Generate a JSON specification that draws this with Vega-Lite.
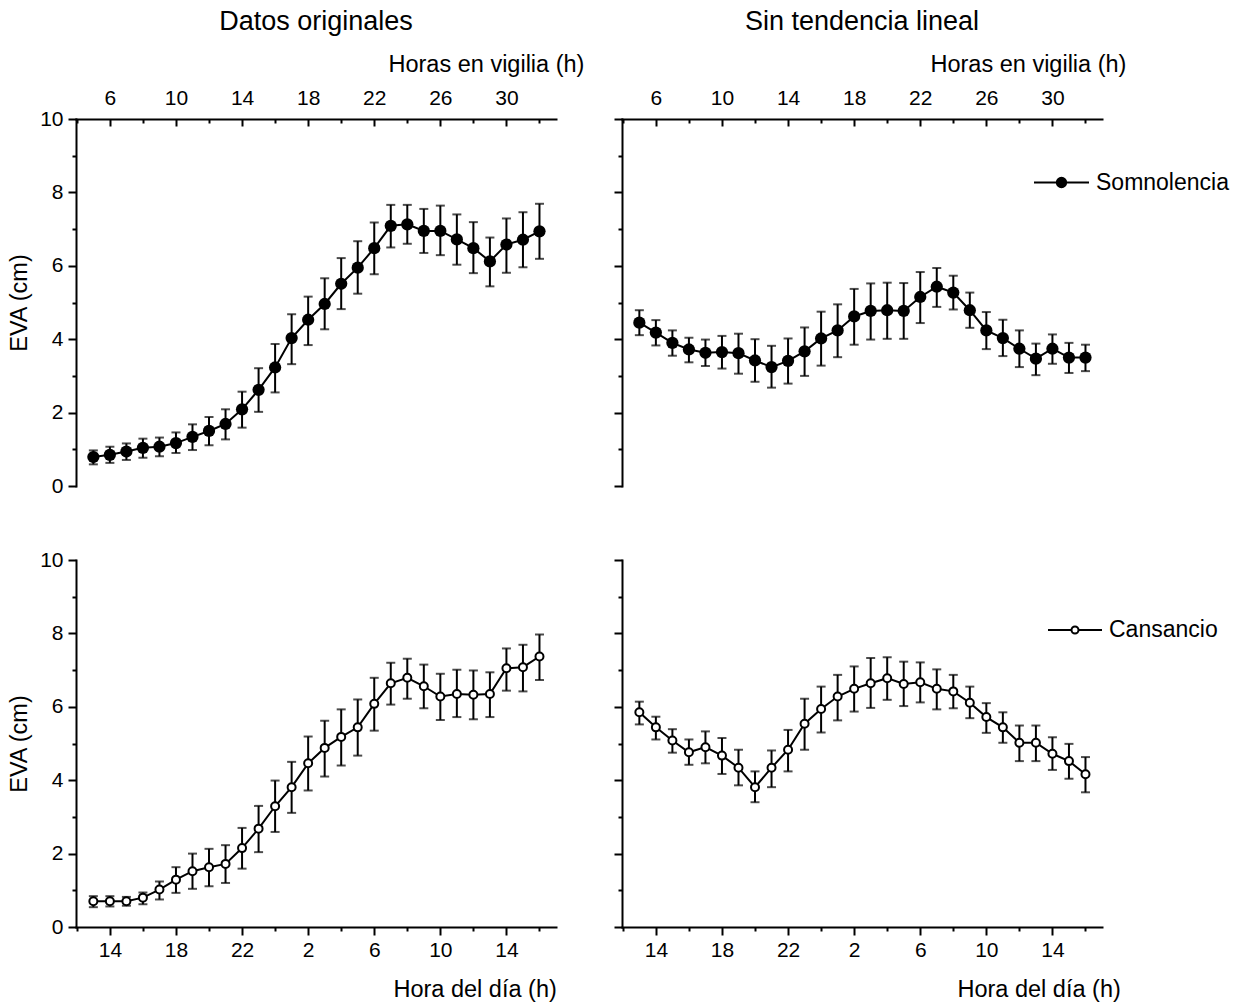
{
  "$schema": "https://vega.github.io/schema/vega-lite/v6.json",
  "padding": {"left": 7, "top": 8, "right": 5, "bottom": 5},
  "background": "white",
  "config": {
    "font": "Liberation Sans",
    "view": {"stroke": null},
    "axis": {
      "domainColor": "black", "tickColor": "black", "labelColor": "black", "titleColor": "black",
      "domainWidth": 2, "tickWidth": 2, "domainCap": "square", "grid": false,
      "labelFontSize": 21, "titleFontSize": 23.5, "titleFontWeight": "normal",
      "labelFont": "Liberation Sans", "titleFont": "Liberation Sans", "labelOverlap": false
    },
    "title": {"fontSize": 27, "fontWeight": "normal", "color": "black", "font": "Liberation Sans"}
  },
  "resolve": {"scale": {"stroke": "independent"}, "legend": {"stroke": "independent"}},
  "datasets": {
    "somOrig": [
      {"h": 5, "m": 0.79, "lo": 0.59, "hi": 0.97},
      {"h": 6, "m": 0.85, "lo": 0.63, "hi": 1.07},
      {"h": 7, "m": 0.94, "lo": 0.71, "hi": 1.16},
      {"h": 8, "m": 1.04, "lo": 0.77, "hi": 1.29},
      {"h": 9, "m": 1.07, "lo": 0.81, "hi": 1.32},
      {"h": 10, "m": 1.17, "lo": 0.90, "hi": 1.46},
      {"h": 11, "m": 1.34, "lo": 0.98, "hi": 1.68},
      {"h": 12, "m": 1.50, "lo": 1.11, "hi": 1.88},
      {"h": 13, "m": 1.69, "lo": 1.27, "hi": 2.09},
      {"h": 14, "m": 2.09, "lo": 1.59, "hi": 2.57},
      {"h": 15, "m": 2.62, "lo": 2.02, "hi": 3.21},
      {"h": 16, "m": 3.23, "lo": 2.55, "hi": 3.87},
      {"h": 17, "m": 4.03, "lo": 3.32, "hi": 4.68},
      {"h": 18, "m": 4.53, "lo": 3.84, "hi": 5.16},
      {"h": 19, "m": 4.96, "lo": 4.27, "hi": 5.66},
      {"h": 20, "m": 5.51, "lo": 4.82, "hi": 6.21},
      {"h": 21, "m": 5.95, "lo": 5.24, "hi": 6.67},
      {"h": 22, "m": 6.48, "lo": 5.77, "hi": 7.18},
      {"h": 23, "m": 7.09, "lo": 6.50, "hi": 7.66},
      {"h": 24, "m": 7.13, "lo": 6.60, "hi": 7.66},
      {"h": 25, "m": 6.95, "lo": 6.35, "hi": 7.55},
      {"h": 26, "m": 6.95, "lo": 6.29, "hi": 7.64},
      {"h": 27, "m": 6.72, "lo": 6.03, "hi": 7.40},
      {"h": 28, "m": 6.48, "lo": 5.80, "hi": 7.19},
      {"h": 29, "m": 6.12, "lo": 5.44, "hi": 6.77},
      {"h": 30, "m": 6.58, "lo": 5.81, "hi": 7.29},
      {"h": 31, "m": 6.71, "lo": 5.96, "hi": 7.46},
      {"h": 32, "m": 6.94, "lo": 6.19, "hi": 7.69}
    ],
    "somDet": [
      {"h": 5, "m": 4.45, "lo": 4.11, "hi": 4.79},
      {"h": 6, "m": 4.18, "lo": 3.83, "hi": 4.52},
      {"h": 7, "m": 3.90, "lo": 3.55, "hi": 4.24},
      {"h": 8, "m": 3.72, "lo": 3.37, "hi": 4.04},
      {"h": 9, "m": 3.63, "lo": 3.27, "hi": 3.99},
      {"h": 10, "m": 3.65, "lo": 3.20, "hi": 4.09},
      {"h": 11, "m": 3.62, "lo": 3.06, "hi": 4.15},
      {"h": 12, "m": 3.42, "lo": 2.84, "hi": 4.00},
      {"h": 13, "m": 3.24, "lo": 2.68, "hi": 3.82},
      {"h": 14, "m": 3.41, "lo": 2.79, "hi": 4.02},
      {"h": 15, "m": 3.67, "lo": 3.00, "hi": 4.32},
      {"h": 16, "m": 4.02, "lo": 3.28, "hi": 4.75},
      {"h": 17, "m": 4.24, "lo": 3.51, "hi": 4.95},
      {"h": 18, "m": 4.62, "lo": 3.85, "hi": 5.37},
      {"h": 19, "m": 4.77, "lo": 3.99, "hi": 5.52},
      {"h": 20, "m": 4.79, "lo": 4.01, "hi": 5.54},
      {"h": 21, "m": 4.77, "lo": 4.01, "hi": 5.53},
      {"h": 22, "m": 5.15, "lo": 4.44, "hi": 5.83},
      {"h": 23, "m": 5.43, "lo": 4.88, "hi": 5.94},
      {"h": 24, "m": 5.27, "lo": 4.81, "hi": 5.73},
      {"h": 25, "m": 4.79, "lo": 4.31, "hi": 5.27},
      {"h": 26, "m": 4.24, "lo": 3.73, "hi": 4.74},
      {"h": 27, "m": 4.03, "lo": 3.54, "hi": 4.53},
      {"h": 28, "m": 3.74, "lo": 3.24, "hi": 4.24},
      {"h": 29, "m": 3.47, "lo": 3.02, "hi": 3.88},
      {"h": 30, "m": 3.74, "lo": 3.33, "hi": 4.13},
      {"h": 31, "m": 3.50, "lo": 3.08, "hi": 3.90},
      {"h": 32, "m": 3.50, "lo": 3.13, "hi": 3.85}
    ],
    "canOrig": [
      {"h": 5, "m": 0.70, "lo": 0.54, "hi": 0.84},
      {"h": 6, "m": 0.70, "lo": 0.56, "hi": 0.84},
      {"h": 7, "m": 0.70, "lo": 0.58, "hi": 0.82},
      {"h": 8, "m": 0.80, "lo": 0.62, "hi": 0.94},
      {"h": 9, "m": 1.02, "lo": 0.75, "hi": 1.24},
      {"h": 10, "m": 1.29, "lo": 0.93, "hi": 1.63},
      {"h": 11, "m": 1.52, "lo": 1.04, "hi": 2.00},
      {"h": 12, "m": 1.63, "lo": 1.11, "hi": 2.13},
      {"h": 13, "m": 1.72, "lo": 1.20, "hi": 2.23},
      {"h": 14, "m": 2.15, "lo": 1.59, "hi": 2.70},
      {"h": 15, "m": 2.68, "lo": 2.04, "hi": 3.30},
      {"h": 16, "m": 3.29, "lo": 2.59, "hi": 3.99},
      {"h": 17, "m": 3.81, "lo": 3.11, "hi": 4.50},
      {"h": 18, "m": 4.46, "lo": 3.72, "hi": 5.19},
      {"h": 19, "m": 4.88, "lo": 4.10, "hi": 5.62},
      {"h": 20, "m": 5.18, "lo": 4.40, "hi": 5.93},
      {"h": 21, "m": 5.44, "lo": 4.67, "hi": 6.20},
      {"h": 22, "m": 6.08, "lo": 5.35, "hi": 6.79},
      {"h": 23, "m": 6.64, "lo": 6.06, "hi": 7.20},
      {"h": 24, "m": 6.79, "lo": 6.22, "hi": 7.31},
      {"h": 25, "m": 6.56, "lo": 5.96, "hi": 7.15},
      {"h": 26, "m": 6.28, "lo": 5.64, "hi": 6.90},
      {"h": 27, "m": 6.35, "lo": 5.72, "hi": 7.01},
      {"h": 28, "m": 6.33, "lo": 5.66, "hi": 6.99},
      {"h": 29, "m": 6.35, "lo": 5.72, "hi": 6.94},
      {"h": 30, "m": 7.05, "lo": 6.44, "hi": 7.59},
      {"h": 31, "m": 7.08, "lo": 6.42, "hi": 7.69},
      {"h": 32, "m": 7.37, "lo": 6.73, "hi": 7.97}
    ],
    "canDet": [
      {"h": 5, "m": 5.85, "lo": 5.52, "hi": 6.14},
      {"h": 6, "m": 5.44, "lo": 5.11, "hi": 5.73},
      {"h": 7, "m": 5.08, "lo": 4.75, "hi": 5.39},
      {"h": 8, "m": 4.76, "lo": 4.42, "hi": 5.11},
      {"h": 9, "m": 4.90, "lo": 4.46, "hi": 5.33},
      {"h": 10, "m": 4.67, "lo": 4.17, "hi": 5.15},
      {"h": 11, "m": 4.34, "lo": 3.86, "hi": 4.83},
      {"h": 12, "m": 3.81, "lo": 3.40, "hi": 4.24},
      {"h": 13, "m": 4.34, "lo": 3.81, "hi": 4.81},
      {"h": 14, "m": 4.83, "lo": 4.24, "hi": 5.37},
      {"h": 15, "m": 5.54, "lo": 4.83, "hi": 6.22},
      {"h": 16, "m": 5.94, "lo": 5.30, "hi": 6.55},
      {"h": 17, "m": 6.28, "lo": 5.63, "hi": 6.87},
      {"h": 18, "m": 6.49, "lo": 5.87, "hi": 7.10},
      {"h": 19, "m": 6.64, "lo": 5.97, "hi": 7.33},
      {"h": 20, "m": 6.78, "lo": 6.19, "hi": 7.35},
      {"h": 21, "m": 6.62, "lo": 6.02, "hi": 7.23},
      {"h": 22, "m": 6.67, "lo": 6.12, "hi": 7.21},
      {"h": 23, "m": 6.49, "lo": 5.93, "hi": 7.02},
      {"h": 24, "m": 6.42, "lo": 5.96, "hi": 6.87},
      {"h": 25, "m": 6.11, "lo": 5.69, "hi": 6.55},
      {"h": 26, "m": 5.72, "lo": 5.29, "hi": 6.10},
      {"h": 27, "m": 5.44, "lo": 5.02, "hi": 5.85},
      {"h": 28, "m": 5.02, "lo": 4.52, "hi": 5.49},
      {"h": 29, "m": 5.02, "lo": 4.52, "hi": 5.49},
      {"h": 30, "m": 4.72, "lo": 4.28, "hi": 5.17},
      {"h": 31, "m": 4.52, "lo": 4.04, "hi": 4.99},
      {"h": 32, "m": 4.16, "lo": 3.67, "hi": 4.63}
    ]
  },
  "columns": 2,
  "bounds": "flush",
  "spacing": {"row": 74, "column": 66},
  "concat": [
    {
      "width": 480, "height": 367,
      "data": {"name": "somOrig"},
      "title": {"text": "Datos originales", "offset": 16},
      "layer": [
        {"mark": {"type": "rule", "color": "black", "strokeWidth": 2},
         "encoding": {
           "x": {"field": "h", "type": "quantitative", "scale": {"domain": [3.95, 33], "nice": false, "zero": false},
                 "axis": {"orient": "top", "values": [6, 10, 14, 18, 22, 26, 30], "tickSize": -7, "labelPadding": 22, "labelBaseline": "alphabetic",
                          "title": "Horas en vigilia (h)", "titleX": 312, "titleY": -48, "titleAlign": "left", "titleBaseline": "alphabetic"}},
           "y": {"field": "lo", "type": "quantitative", "scale": {"domain": [0, 10], "nice": false},
                 "axis": {"orient": "left", "values": [0, 2, 4, 6, 8, 10], "tickSize": 8, "labelPadding": 5, "title": "EVA (cm)", "titlePadding": 8}},
           "y2": {"field": "hi"}}},
        {"mark": {"type": "tick", "orient": "horizontal", "color": "black", "size": 9, "thickness": 2},
         "encoding": {"x": {"field": "h", "type": "quantitative", "axis": null}, "y": {"field": "lo", "type": "quantitative", "axis": null}}},
        {"mark": {"type": "tick", "orient": "horizontal", "color": "black", "size": 9, "thickness": 2},
         "encoding": {"x": {"field": "h", "type": "quantitative", "axis": null}, "y": {"field": "hi", "type": "quantitative", "axis": null}}},
        {"mark": {"type": "line", "color": "black", "strokeWidth": 2},
         "encoding": {
           "x": {"field": "h", "type": "quantitative", "axis": {"orient": "top", "values": [4, 8, 12, 16, 20, 24, 28, 32], "tickSize": -4, "labels": false, "domain": false, "title": null}},
           "y": {"field": "m", "type": "quantitative", "axis": {"orient": "left", "values": [1, 3, 5, 7, 9], "tickSize": 4, "labels": false, "domain": false, "title": null}}}},
        {"mark": {"type": "point", "shape": "circle", "filled": true, "color": "black", "size": 150, "opacity": 1},
         "encoding": {"x": {"field": "h", "type": "quantitative", "axis": null}, "y": {"field": "m", "type": "quantitative", "axis": null}}}
      ],
      "resolve": {"axis": {"x": "independent", "y": "independent"}}
    },
    {
      "width": 480, "height": 367,
      "data": {"name": "somDet"},
      "title": {"text": "Sin tendencia lineal", "offset": 16},
      "layer": [
        {"mark": {"type": "rule", "color": "black", "strokeWidth": 2},
         "encoding": {
           "x": {"field": "h", "type": "quantitative", "scale": {"domain": [3.95, 33], "nice": false, "zero": false},
                 "axis": {"orient": "top", "values": [6, 10, 14, 18, 22, 26, 30], "tickSize": -7, "labelPadding": 22, "labelBaseline": "alphabetic",
                          "title": "Horas en vigilia (h)", "titleX": 308, "titleY": -48, "titleAlign": "left", "titleBaseline": "alphabetic"}},
           "y": {"field": "lo", "type": "quantitative", "scale": {"domain": [0, 10], "nice": false},
                 "axis": {"orient": "left", "values": [0, 2, 4, 6, 8, 10], "tickSize": 8, "labels": false, "title": null}},
           "y2": {"field": "hi"}}},
        {"mark": {"type": "tick", "orient": "horizontal", "color": "black", "size": 9, "thickness": 2},
         "encoding": {"x": {"field": "h", "type": "quantitative", "axis": null}, "y": {"field": "lo", "type": "quantitative", "axis": null}}},
        {"mark": {"type": "tick", "orient": "horizontal", "color": "black", "size": 9, "thickness": 2},
         "encoding": {"x": {"field": "h", "type": "quantitative", "axis": null}, "y": {"field": "hi", "type": "quantitative", "axis": null}}},
        {"mark": {"type": "line", "color": "black", "strokeWidth": 2},
         "encoding": {
           "x": {"field": "h", "type": "quantitative", "axis": {"orient": "top", "values": [4, 8, 12, 16, 20, 24, 28, 32], "tickSize": -4, "labels": false, "domain": false, "title": null}},
           "y": {"field": "m", "type": "quantitative", "axis": {"orient": "left", "values": [1, 3, 5, 7, 9], "tickSize": 4, "labels": false, "domain": false, "title": null}},
           "stroke": {"datum": "Somnolencia", "scale": {"range": ["black"]},
                      "legend": {"orient": "none", "legendX": 411, "legendY": 35, "title": null, "padding": 0,
                                 "symbolType": "M-1,0L-0.17,0M0.17,0L1,0M0.17,0A0.17,0.17,0,1,1,-0.17,0A0.17,0.17,0,1,1,0.17,0Z",
                                 "symbolSize": 3025, "symbolStrokeWidth": 2, "symbolFillColor": "black", "symbolStrokeColor": "black",
                                 "labelFontSize": 23, "labelFont": "Liberation Sans", "labelColor": "black", "labelOffset": 6}}}},
        {"mark": {"type": "point", "shape": "circle", "filled": true, "color": "black", "size": 150, "opacity": 1},
         "encoding": {"x": {"field": "h", "type": "quantitative", "axis": null}, "y": {"field": "m", "type": "quantitative", "axis": null}}}
      ],
      "resolve": {"axis": {"x": "independent", "y": "independent"}}
    },
    {
      "width": 480, "height": 367,
      "data": {"name": "canOrig"},
      "layer": [
        {"mark": {"type": "rule", "color": "black", "strokeWidth": 2},
         "encoding": {
           "x": {"field": "h", "type": "quantitative", "scale": {"domain": [3.95, 33], "nice": false, "zero": false},
                 "axis": {"orient": "bottom", "values": [6, 10, 14, 18, 22, 26, 30], "tickSize": 8, "labelPadding": 21, "labelBaseline": "alphabetic",
                          "labelExpr": "'' + ((datum.value + 8) % 24)",
                          "title": "Hora del día (h)", "titleX": 317, "titleY": 69, "titleAlign": "left", "titleBaseline": "alphabetic"}},
           "y": {"field": "lo", "type": "quantitative", "scale": {"domain": [0, 10], "nice": false},
                 "axis": {"orient": "left", "values": [0, 2, 4, 6, 8, 10], "tickSize": 8, "labelPadding": 5, "title": "EVA (cm)", "titlePadding": 8}},
           "y2": {"field": "hi"}}},
        {"mark": {"type": "tick", "orient": "horizontal", "color": "black", "size": 9, "thickness": 2},
         "encoding": {"x": {"field": "h", "type": "quantitative", "axis": null}, "y": {"field": "lo", "type": "quantitative", "axis": null}}},
        {"mark": {"type": "tick", "orient": "horizontal", "color": "black", "size": 9, "thickness": 2},
         "encoding": {"x": {"field": "h", "type": "quantitative", "axis": null}, "y": {"field": "hi", "type": "quantitative", "axis": null}}},
        {"mark": {"type": "line", "color": "black", "strokeWidth": 2},
         "encoding": {
           "x": {"field": "h", "type": "quantitative", "axis": {"orient": "bottom", "values": [4, 8, 12, 16, 20, 24, 28, 32], "tickSize": 4, "labels": false, "domain": false, "title": null}},
           "y": {"field": "m", "type": "quantitative", "axis": {"orient": "left", "values": [1, 3, 5, 7, 9], "tickSize": 4, "labels": false, "domain": false, "title": null}}}},
        {"mark": {"type": "point", "shape": "circle", "filled": false, "fill": "white", "stroke": "black", "strokeWidth": 2, "size": 64, "opacity": 1},
         "encoding": {"x": {"field": "h", "type": "quantitative", "axis": null}, "y": {"field": "m", "type": "quantitative", "axis": null}}}
      ],
      "resolve": {"axis": {"x": "independent", "y": "independent"}}
    },
    {
      "width": 480, "height": 367,
      "data": {"name": "canDet"},
      "layer": [
        {"mark": {"type": "rule", "color": "black", "strokeWidth": 2},
         "encoding": {
           "x": {"field": "h", "type": "quantitative", "scale": {"domain": [3.95, 33], "nice": false, "zero": false},
                 "axis": {"orient": "bottom", "values": [6, 10, 14, 18, 22, 26, 30], "tickSize": 8, "labelPadding": 21, "labelBaseline": "alphabetic",
                          "labelExpr": "'' + ((datum.value + 8) % 24)",
                          "title": "Hora del día (h)", "titleX": 335, "titleY": 69, "titleAlign": "left", "titleBaseline": "alphabetic"}},
           "y": {"field": "lo", "type": "quantitative", "scale": {"domain": [0, 10], "nice": false},
                 "axis": {"orient": "left", "values": [0, 2, 4, 6, 8, 10], "tickSize": 8, "labels": false, "title": null}},
           "y2": {"field": "hi"}}},
        {"mark": {"type": "tick", "orient": "horizontal", "color": "black", "size": 9, "thickness": 2},
         "encoding": {"x": {"field": "h", "type": "quantitative", "axis": null}, "y": {"field": "lo", "type": "quantitative", "axis": null}}},
        {"mark": {"type": "tick", "orient": "horizontal", "color": "black", "size": 9, "thickness": 2},
         "encoding": {"x": {"field": "h", "type": "quantitative", "axis": null}, "y": {"field": "hi", "type": "quantitative", "axis": null}}},
        {"mark": {"type": "line", "color": "black", "strokeWidth": 2},
         "encoding": {
           "x": {"field": "h", "type": "quantitative", "axis": {"orient": "bottom", "values": [4, 8, 12, 16, 20, 24, 28, 32], "tickSize": 4, "labels": false, "domain": false, "title": null}},
           "y": {"field": "m", "type": "quantitative", "axis": {"orient": "left", "values": [1, 3, 5, 7, 9], "tickSize": 4, "labels": false, "domain": false, "title": null}},
           "stroke": {"datum": "Cansancio", "scale": {"range": ["black"]},
                      "legend": {"orient": "none", "legendX": 425, "legendY": 42, "title": null, "padding": 0,
                                 "symbolType": "M-1,0L-0.13,0M0.13,0L1,0M0.13,0A0.13,0.13,0,1,1,-0.13,0A0.13,0.13,0,1,1,0.13,0Z",
                                 "symbolSize": 2916, "symbolStrokeWidth": 2, "symbolFillColor": "white", "symbolStrokeColor": "black",
                                 "labelFontSize": 23, "labelFont": "Liberation Sans", "labelColor": "black", "labelOffset": 6}}}},
        {"mark": {"type": "point", "shape": "circle", "filled": false, "fill": "white", "stroke": "black", "strokeWidth": 2, "size": 64, "opacity": 1},
         "encoding": {"x": {"field": "h", "type": "quantitative", "axis": null}, "y": {"field": "m", "type": "quantitative", "axis": null}}}
      ],
      "resolve": {"axis": {"x": "independent", "y": "independent"}}
    }
  ]
}
